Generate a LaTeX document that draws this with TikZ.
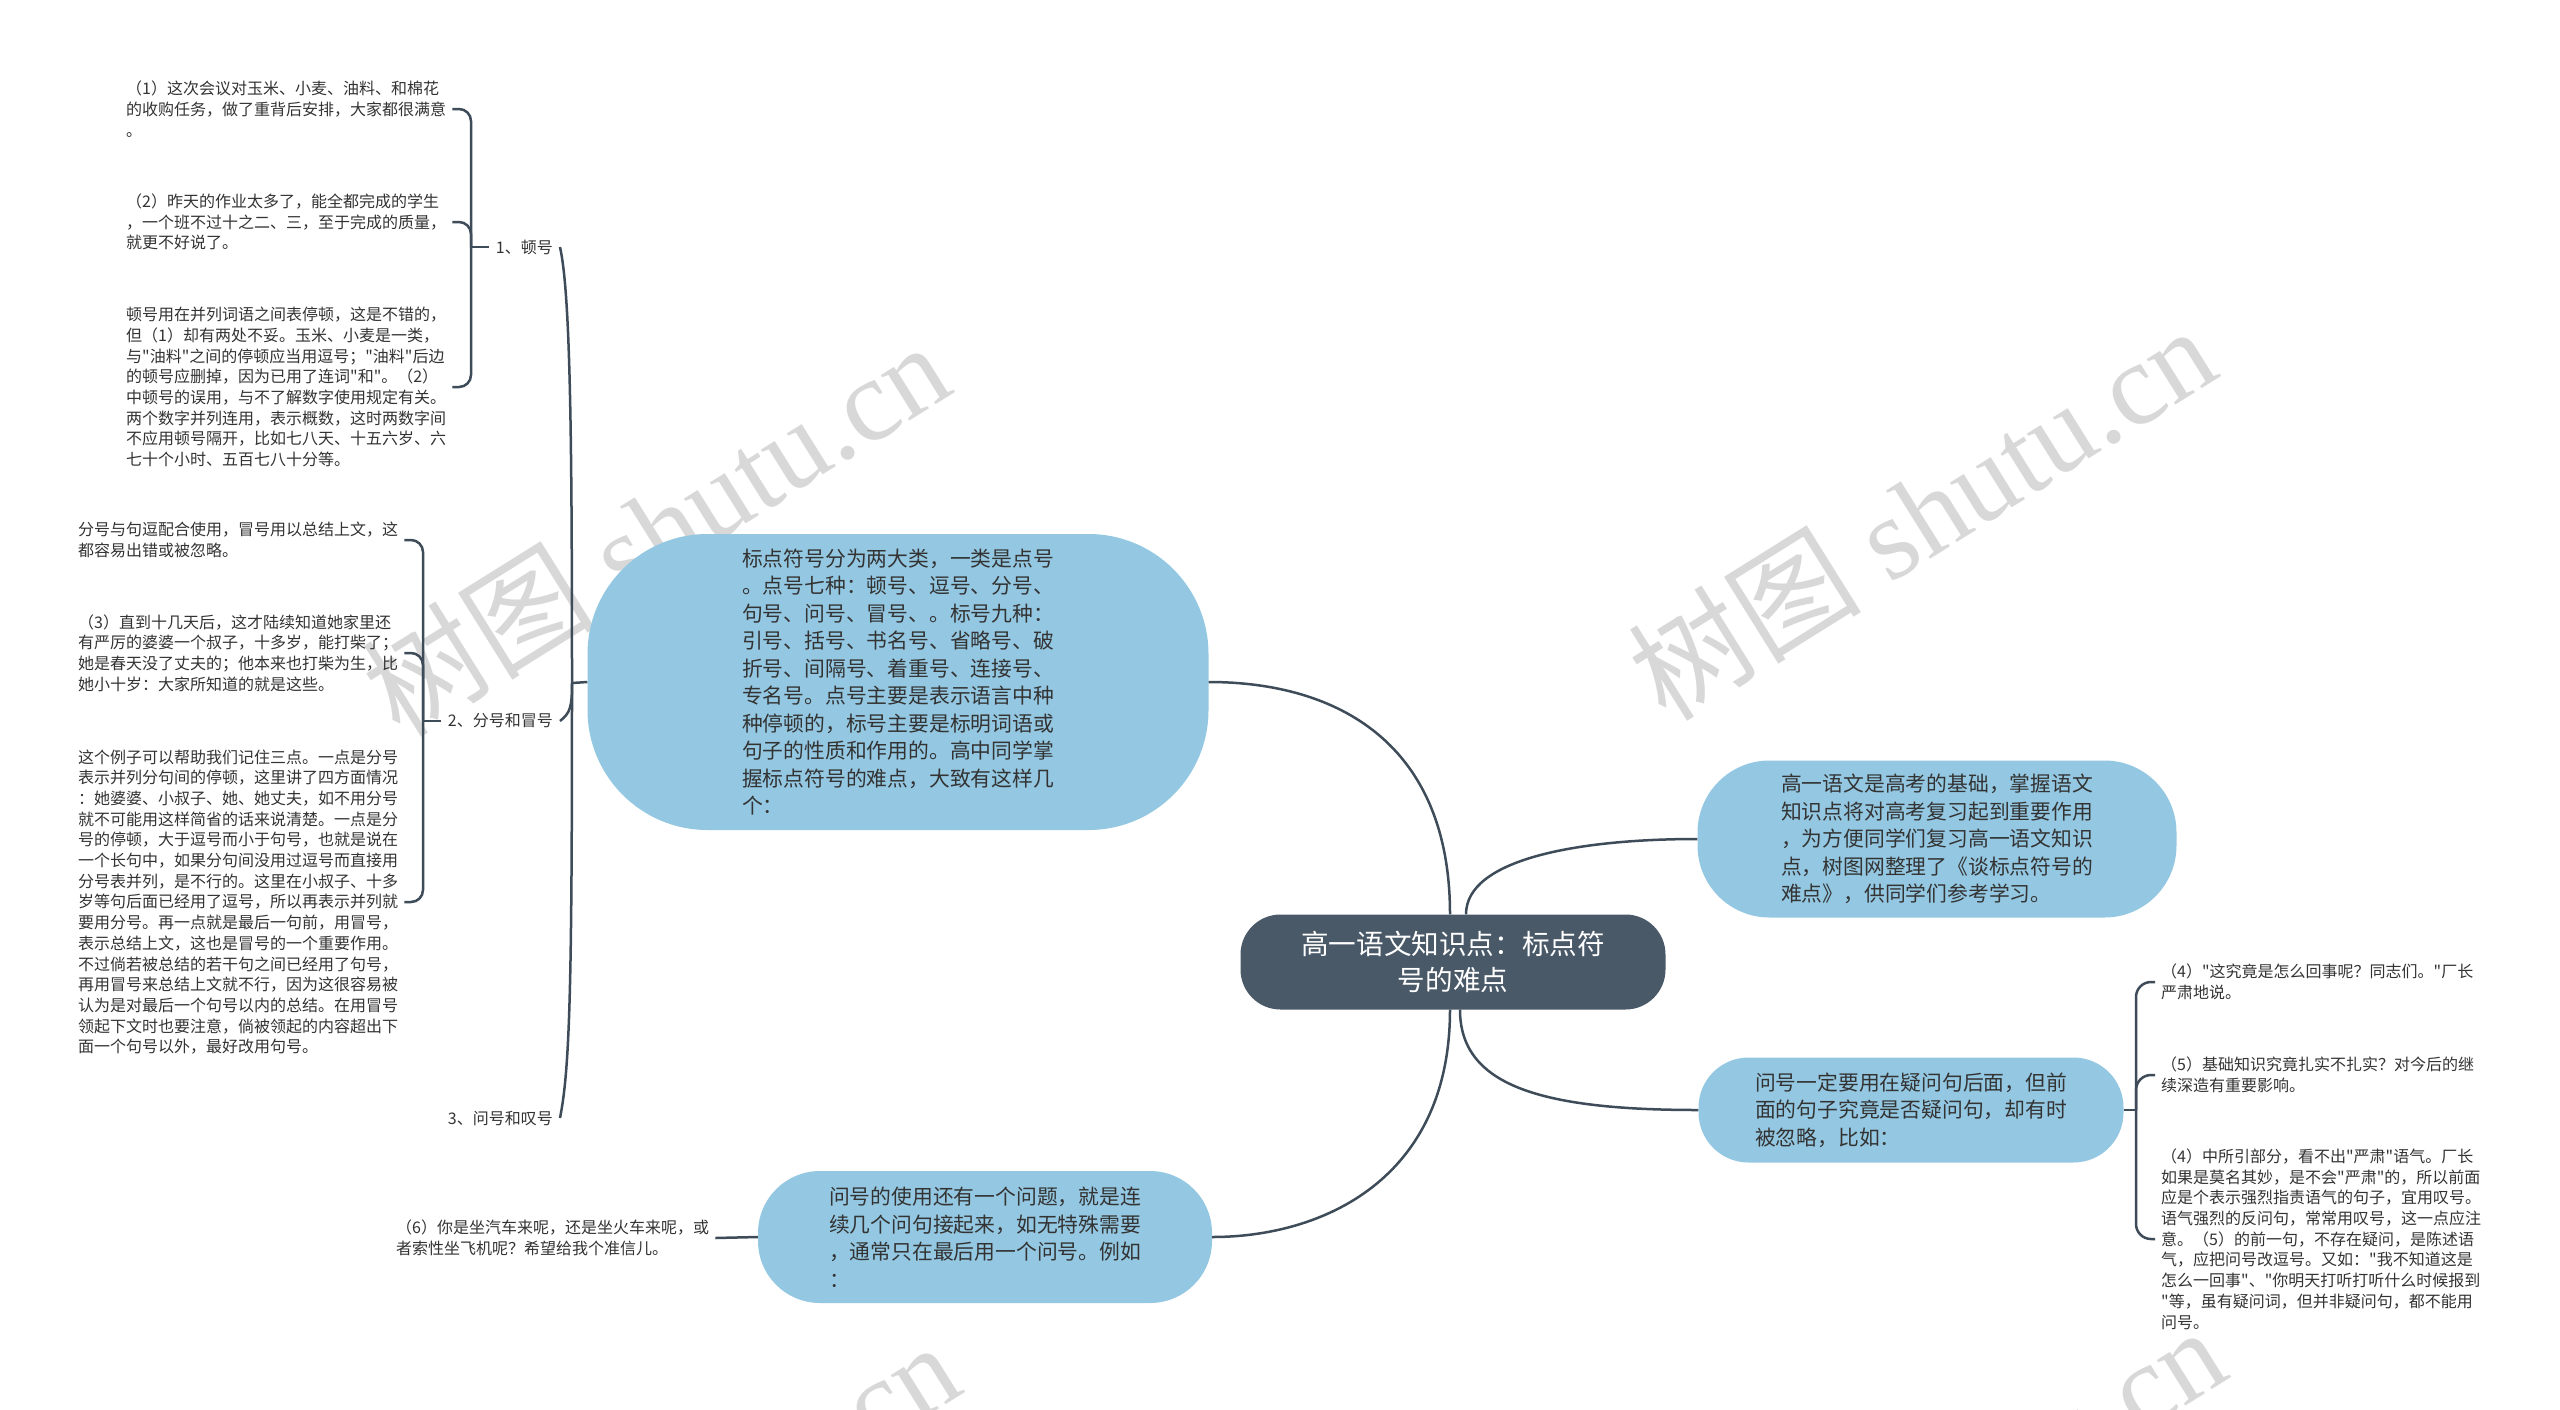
\documentclass[tikz,border=0pt]{standalone}
\usepackage{fontspec}
\usepackage{tikz}
\newfontfamily\cjk{Noto Sans CJK SC}
\newfontfamily\wmfont{Liberation Serif}
\definecolor{linkcol}{HTML}{3E4C59}
\definecolor{bubblecol}{HTML}{94C8E2}
\definecolor{rootcol}{HTML}{4A5968}
\definecolor{txtcol}{HTML}{333333}
\definecolor{wmcol}{HTML}{D8D8D8}

\begin{document}
\begin{tikzpicture}[x=1pt,y=-1pt,
  maplink/.style={draw=linkcol,line width=2.5pt},
  bubble/.style={fill=bubblecol,text=txtcol,align=left,inner sep=0pt,font=\cjk\fontsize{20.8}{27.5}\selectfont},
  leaf/.style={text=txtcol,align=left,anchor=west,inner sep=6pt,font=\cjk\fontsize{16}{20.7}\selectfont},
  branchlabel/.style={text=txtcol,anchor=east,inner xsep=7pt,font=\cjk\fontsize{16}{20}\selectfont},
  wm/.style={text=wmcol,rotate=32,inner sep=0pt,font=\wmfont\fontsize{117}{117}\selectfont}]
\useasboundingbox[fill=white] (0,0) rectangle (2560,1409);

\begin{scope}
\clip (0,0) rectangle (2560,1409);
\foreach \wx/\wy in {655/528,1921/512,665/1528,1931/1513}
  \node[wm] at (\wx,\wy) {{\cjk 树图} shutu.cn};
\end{scope}

\node[fill=rootcol,text=white,rounded corners=40,minimum width=425,minimum height=95,align=center,font=\cjk\fontsize{27.6}{36}\selectfont] (root) at (1453,962) {高一语文知识点：标点符\\号的难点};

\node[bubble,rounded corners=120,minimum width=621,minimum height=296] (pts) at (898,682) {标点符号分为两大类，一类是点号\\。点号七种：顿号、逗号、分号、\\句号、问号、冒号、。标号九种：\\引号、括号、书名号、省略号、破\\折号、间隔号、着重号、连接号、\\专名号。点号主要是表示语言中种\\种停顿的，标号主要是标明词语或\\句子的性质和作用的。高中同学掌\\握标点符号的难点，大致有这样几\\个：};
\node[bubble,rounded corners=72,minimum width=479,minimum height=157] (intro) at (1937,839) {高一语文是高考的基础，掌握语文\\知识点将对高考复习起到重要作用\\，为方便同学们复习高一语文知识\\点，树图网整理了《谈标点符号的\\难点》，供同学们参考学习。};
\node[bubble,rounded corners=50,minimum width=425,minimum height=105] (qmark) at (1911,1110) {问号一定要用在疑问句后面，但前\\面的句子究竟是否疑问句，却有时\\被忽略，比如：};
\node[bubble,rounded corners=62,minimum width=454,minimum height=132] (qrun) at (985,1237) {问号的使用还有一个问题，就是连\\续几个问句接起来，如无特殊需要\\，通常只在最后用一个问号。例如\\：};

\draw[maplink] ([xshift=-3pt]root.north) .. controls +(0,-170) and +(130,0) .. (pts.east);
\draw[maplink] ([xshift=13pt]root.north) .. controls +(0,-55) and +(-120,0) .. (intro.west);
\draw[maplink] ([xshift=7pt]root.south) .. controls +(0,75) and +(-160,0) .. (qmark.west);
\draw[maplink] ([xshift=-3pt]root.south) .. controls +(0,170) and +(110,0) .. (qrun.east);

\node[branchlabel] (dunhao) at (560,247) {1、顿号};
\node[branchlabel] (fenhao) at (560,721) {2、分号和冒号};
\node[branchlabel] (wenhao) at (560,1118) {3、问号和叹号};

\coordinate (spine) at (572,683);
\draw[maplink] (pts.west) -- (spine);
\draw[maplink] (spine) .. controls +(0,-260) and +(10,45) .. (dunhao.east);
\draw[maplink] (spine) .. controls +(0,25) and +(10,-8) .. (fenhao.east);
\draw[maplink] (spine) .. controls +(0,300) and +(10,-50) .. (wenhao.east);

\node[leaf] (t1) at (120,109) {（1）这次会议对玉米、小麦、油料、和棉花\\的收购任务，做了重背后安排，大家都很满意\\。};
\node[leaf] (t2) at (120,222) {（2）昨天的作业太多了，能全都完成的学生\\，一个班不过十之二、三，至于完成的质量，\\就更不好说了。};
\node[leaf] (t3) at (120,387) {顿号用在并列词语之间表停顿，这是不错的，\\但（1）却有两处不妥。玉米、小麦是一类，\\与"油料"之间的停顿应当用逗号；"油料"后边\\的顿号应删掉，因为已用了连词"和"。（2）\\中顿号的误用，与不了解数字使用规定有关。\\两个数字并列连用，表示概数，这时两数字间\\不应用顿号隔开，比如七八天、十五六岁、六\\七十个小时、五百七八十分等。};

\coordinate (b1) at (471,247);
\draw[maplink] (dunhao.west) -- (b1);
\draw[maplink,rounded corners=12] (b1) |- (t1.east);
\draw[maplink,rounded corners=12] (b1) |- (t2.east);
\draw[maplink,rounded corners=12] (b1) |- (t3.east);

\node[leaf] (t4) at (72,540) {分号与句逗配合使用，冒号用以总结上文，这\\都容易出错或被忽略。};
\node[leaf] (t5) at (72,653) {（3）直到十几天后，这才陆续知道她家里还\\有严厉的婆婆一个叔子，十多岁，能打柴了；\\她是春天没了丈夫的；他本来也打柴为生，比\\她小十岁：大家所知道的就是这些。};
\node[leaf] (t6) at (72,902) {这个例子可以帮助我们记住三点。一点是分号\\表示并列分句间的停顿，这里讲了四方面情况\\：她婆婆、小叔子、她、她丈夫，如不用分号\\就不可能用这样简省的话来说清楚。一点是分\\号的停顿，大于逗号而小于句号，也就是说在\\一个长句中，如果分句间没用过逗号而直接用\\分号表并列，是不行的。这里在小叔子、十多\\岁等句后面已经用了逗号，所以再表示并列就\\要用分号。再一点就是最后一句前，用冒号，\\表示总结上文，这也是冒号的一个重要作用。\\不过倘若被总结的若干句之间已经用了句号，\\再用冒号来总结上文就不行，因为这很容易被\\认为是对最后一个句号以内的总结。在用冒号\\领起下文时也要注意，倘被领起的内容超出下\\面一个句号以外，最好改用句号。};

\coordinate (b2) at (423,721);
\draw[maplink] (fenhao.west) -- (b2);
\draw[maplink,rounded corners=12] (b2) |- (t4.east);
\draw[maplink,rounded corners=12] (b2) |- (t5.east);
\draw[maplink,rounded corners=12] (b2) |- (t6.east);

\node[leaf] (t7) at (390,1238) {（6）你是坐汽车来呢，还是坐火车来呢，或\\者索性坐飞机呢？希望给我个准信儿。};
\draw[maplink] (qrun.west) -- (t7.east);

\node[leaf] (c1) at (2155,982) {（4）"这究竟是怎么回事呢？同志们。"厂长\\严肃地说。};
\node[leaf] (c2) at (2155,1075) {（5）基础知识究竟扎实不扎实？对今后的继\\续深造有重要影响。};
\node[leaf] (c3) at (2155,1239) {（4）中所引部分，看不出"严肃"语气。厂长\\如果是莫名其妙，是不会"严肃"的，所以前面\\应是个表示强烈指责语气的句子，宜用叹号。\\语气强烈的反问句，常常用叹号，这一点应注\\意。（5）的前一句，不存在疑问，是陈述语\\气，应把问号改逗号。又如："我不知道这是\\怎么一回事"、"你明天打听打听什么时候报到\\"等，虽有疑问词，但并非疑问句，都不能用\\问号。};

\coordinate (bC) at (2136,1110);
\draw[maplink] (qmark.east) -- (bC);
\draw[maplink,rounded corners=15] (bC) |- (c1.west);
\draw[maplink,rounded corners=15] (bC) |- (c2.west);
\draw[maplink,rounded corners=15] (bC) |- (c3.west);
\end{tikzpicture}
\end{document}
